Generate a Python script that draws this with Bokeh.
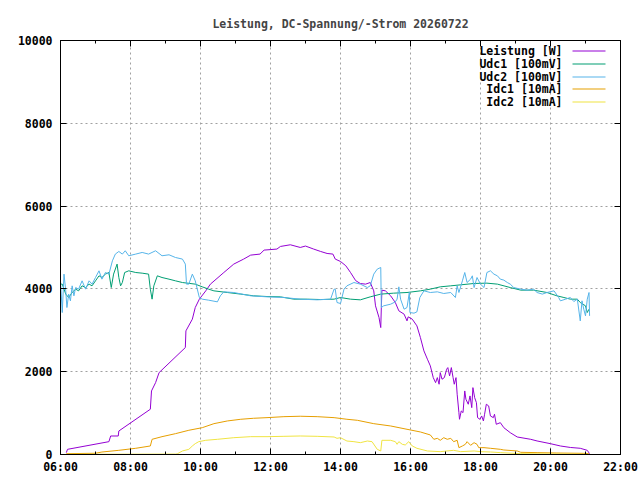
from bokeh.plotting import figure
from bokeh.models import FixedTicker, LinearAxis, Label, BoxAnnotation, Range1d, CustomLabelingPolicy
from bokeh.embed import file_html
from bokeh.resources import INLINE

TITLE = "Leistung, DC-Spannung/-Strom 20260722"

x_tick_values = [6, 8, 10, 12, 14, 16, 18, 20, 22]
x_tick_labels = ["06:00", "08:00", "10:00", "12:00", "14:00", "16:00", "18:00", "20:00", "22:00"]
x_minor_ticks = [7, 9, 11, 13, 15, 17, 19, 21]
y_tick_values = [0, 2000, 4000, 6000, 8000, 10000]

series_names = ["Leistung [W]", "Udc1 [100mV]", "Udc2 [100mV]", "Idc1 [10mA]", "Idc2 [10mA]"]
series_colors = ["#9400d3", "#009e73", "#56b4e9", "#e69f00", "#f0e442"]

p_time = ["06:10", "06:12", "07:23", "07:26", "07:39", "07:40", "08:34", "08:36", "08:43", "08:49",
          "09:34", "09:35", "09:46", "09:51", "09:58", "10:09", "10:17", "10:40", "10:57", "11:14",
          "11:26", "11:42", "11:49", "12:11", "12:17", "12:34", "12:51", "13:00", "13:14", "13:26",
          "13:37", "13:47", "13:51", "14:00", "14:09", "14:17", "14:26", "14:34", "14:43", "14:51",
          "14:57", "15:00", "15:06", "15:09", "15:10", "15:11", "15:17", "15:26", "15:34", "15:40",
          "15:49", "15:54", "15:56", "16:03", "16:11", "16:17", "16:23", "16:29", "16:34", "16:39",
          "16:43", "16:46", "16:49", "16:51", "16:54", "16:58", "17:02", "17:04", "17:07", "17:10",
          "17:13", "17:15", "17:18", "17:20", "17:23", "17:24", "17:27", "17:30", "17:33", "17:35",
          "17:39", "17:42", "17:45", "17:47", "17:50", "17:53", "17:55", "17:59", "18:02", "18:05",
          "18:07", "18:10", "18:14", "18:17", "18:22", "18:24", "18:27", "18:34", "18:40", "18:51",
          "19:03", "19:26", "19:37", "20:00", "20:17", "20:34", "20:51", "21:03", "21:07"]
p_watt = [45, 125, 310, 447, 447, 568, 1093, 1535, 1736, 1978,
          2583, 2986, 3269, 3550, 3752, 3953, 4115, 4396, 4599, 4720,
          4816, 4841, 4937, 4962, 5025, 5066, 5001, 5035, 4962, 4904,
          4856, 4841, 4720, 4662, 4560, 4400, 4200, 4130, 4115, 4154,
          3953, 3591, 3308, 3066, 3550, 3970, 3953, 3833, 3671, 3470,
          3390, 3228, 3325, 3269, 3107, 2824, 2503, 2302, 2140, 1857,
          1736, 1857, 1697, 1978, 1818, 1857, 2060, 2099, 1898, 2099,
          1857, 1697, 1857, 1456, 1011, 851, 1052, 1011, 1535, 1335,
          1214, 1415, 1132, 1615, 1373, 1253, 890, 851, 931, 810,
          972, 1214, 1173, 931, 890, 972, 730, 769, 648, 527,
          423, 367, 327, 261, 206, 170, 150, 101, 19]

udc1_time = ["06:00", "06:03", "06:09", "06:14", "06:20", "06:26", "06:31", "06:37", "06:43", "06:49",
             "06:54", "07:00", "07:06", "07:11", "07:17", "07:23", "07:27", "07:31", "07:37", "07:40",
             "07:43", "07:46", "07:50", "07:57", "08:09", "08:20", "08:31", "08:34", "08:37", "08:40",
             "08:46", "08:54", "09:06", "09:17", "09:29", "09:51", "10:03", "10:14", "10:23", "10:46",
             "11:09", "11:31", "11:54", "12:17", "12:40", "13:03", "13:26", "13:49", "14:00", "14:17",
             "14:34", "14:51", "15:09", "15:31", "15:54", "16:17", "16:34", "16:51", "17:09", "17:26",
             "17:49", "18:11", "18:29", "18:51", "19:09", "19:31", "19:54", "20:11", "20:23", "20:34",
             "20:46", "20:51", "21:00", "21:03", "21:06"]
udc1_val = [4115, 4115, 3874, 3792, 3913, 3994, 3953, 4074, 4033, 4115,
            4074, 4195, 4316, 4275, 4357, 4396, 4033, 4357, 4599, 4275,
            4074, 4154, 4396, 4437, 4396, 4380, 4357, 3994, 3752, 4074,
            4316, 4275, 4235, 4195, 4154, 4115, 4050, 3994, 3953, 3913,
            3874, 3833, 3816, 3808, 3752, 3752, 3743, 3752, 3792, 3752,
            3736, 3808, 3874, 3897, 3913, 3953, 3994, 4050, 4074, 4098,
            4131, 4139, 4115, 4033, 3970, 3970, 3913, 3833, 3792, 3752,
            3752, 3671, 3591, 3429, 3510]

udc2_time = ["06:00", "06:03", "06:06", "06:09", "06:11", "06:14", "06:17", "06:20", "06:23", "06:26",
             "06:31", "06:37", "06:43", "06:49", "06:54", "07:00", "07:06", "07:11", "07:17", "07:23",
             "07:29", "07:34", "07:40", "07:46", "07:51", "07:57", "08:09", "08:20", "08:31", "08:43",
             "08:54", "09:06", "09:17", "09:29", "09:34", "09:36", "09:40", "09:46", "09:51", "09:58",
             "10:03", "10:14", "10:29", "10:34", "10:40", "10:57", "11:26", "11:54", "12:23", "12:51",
             "13:20", "13:43", "13:49", "13:51", "13:54", "14:00", "14:06", "14:11", "14:23", "14:34",
             "14:46", "14:51", "14:57", "15:03", "15:09", "15:10", "15:14", "15:26", "15:34", "15:37",
             "15:40", "15:43", "15:49", "15:54", "15:58", "15:59", "16:06", "16:11", "16:16", "16:23",
             "16:34", "16:46", "16:57", "17:09", "17:17", "17:20", "17:23", "17:29", "17:33", "17:37",
             "17:43", "17:46", "17:49", "17:54", "18:00", "18:06", "18:11", "18:17", "18:23", "18:29",
             "18:34", "18:40", "18:46", "18:51", "18:57", "19:09", "19:20", "19:31", "19:37", "19:46",
             "19:54", "20:06", "20:14", "20:17", "20:26", "20:34", "20:40", "20:46", "20:51", "20:54",
             "20:57", "21:00", "21:03", "21:06", "21:07"]
udc2_val = [4195, 3429, 4357, 3953, 3550, 3874, 3712, 4074, 3833, 4033,
            3994, 4195, 3994, 4195, 4115, 4275, 4437, 4235, 4396, 4357,
            4679, 4841, 4904, 4841, 4921, 4800, 4841, 4880, 4841, 4921,
            4800, 4824, 4759, 4720, 4599, 4115, 4115, 4357, 4195, 3792,
            3752, 3728, 3687, 3833, 3929, 3913, 3833, 3808, 3792, 3752,
            3736, 3752, 3994, 3994, 3671, 3647, 3994, 4074, 4154, 4115,
            4033, 4074, 4357, 4478, 4517, 3550, 3591, 3631, 3687, 3752,
            4050, 3752, 3510, 3550, 3913, 3429, 3414, 3446, 3792, 3953,
            3913, 3929, 3889, 3913, 3792, 4074, 3913, 4195, 4396, 4154,
            4235, 4316, 4033, 4275, 4115, 4033, 4396, 4437, 4357, 4316,
            4235, 4212, 4154, 4115, 4033, 3994, 3970, 3994, 3913, 3874,
            3913, 3953, 3792, 3712, 3752, 3792, 3695, 3752, 3228, 3712,
            3510, 3349, 3752, 3913, 3349]

idc1_time = ["06:10", "07:00", "07:11", "07:40", "08:09", "08:34", "08:37", "08:54", "09:17", "09:40",
             "10:03", "10:23", "10:46", "11:09", "11:31", "11:54", "12:23", "12:51", "13:20", "13:49",
             "14:11", "14:29", "14:57", "15:26", "15:54", "16:17", "16:34", "16:40", "16:46", "16:51",
             "16:57", "17:03", "17:09", "17:14", "17:20", "17:23", "17:29", "17:34", "17:37", "17:43",
             "17:49", "17:54", "17:57", "18:06", "18:17", "18:34", "18:40", "19:03", "19:09", "19:37",
             "20:11", "20:57", "21:06"]
idc1_val = [20, 30, 60, 101, 150, 206, 367, 431, 503, 585,
            648, 745, 810, 851, 875, 890, 914, 924, 914, 890,
            851, 826, 745, 689, 609, 544, 472, 367, 391, 343,
            406, 367, 391, 310, 343, 165, 206, 246, 310, 222,
            286, 246, 165, 165, 150, 125, 109, 85, 53, 45,
            36, 28, 20]

idc2_time = ["06:10", "09:17", "09:20", "09:29", "09:40", "09:46", "09:51", "09:57", "10:09", "10:29",
             "10:57", "11:26", "11:54", "12:23", "12:51", "13:20", "13:49", "13:54", "14:00", "14:11",
             "14:23", "14:34", "14:46", "14:54", "15:03", "15:09", "15:11", "15:26", "15:34", "15:37",
             "15:40", "15:46", "15:51", "15:57", "16:03", "16:11", "16:29", "16:51", "17:14", "17:26",
             "17:49", "18:00", "18:17", "18:34", "19:09", "20:06", "21:06"]
idc2_val = [5, 10, 15, 85, 125, 206, 262, 310, 343, 367,
            406, 431, 431, 439, 447, 439, 423, 391, 406, 326,
            310, 286, 326, 310, 125, 85, 343, 343, 310, 246,
            310, 246, 230, 310, 206, 150, 85, 69, 101, 69,
            85, 69, 61, 45, 20, 12, 4]


def hours(ts):
    return [int(t[:2]) + int(t[3:]) / 60.0 for t in ts]


FONT = "DejaVu Sans Mono"
FS = "11.5px"

p = figure(width=640, height=480, x_range=Range1d(6, 22), y_range=Range1d(0, 10000),
           output_backend="svg", toolbar_location=None, title=TITLE,
           min_border_left=60, min_border_right=20, min_border_top=40, min_border_bottom=26)
p.title.align = "center"
p.title.text_font = FONT
p.title.text_font_size = FS
p.title.text_font_style = "bold"
p.title.standoff = 19
p.background_fill_color = "white"
p.border_fill_color = "white"
p.outline_line_color = "black"
p.outline_line_width = 1

xticker = FixedTicker(ticks=x_tick_values, minor_ticks=x_minor_ticks)
yticker = FixedTicker(ticks=y_tick_values, minor_ticks=[])

for ax in (p.xaxis[0], p.yaxis[0]):
    ax.major_tick_in = 6
    ax.major_tick_out = 0
    ax.minor_tick_in = 3
    ax.minor_tick_out = 0
    ax.axis_line_color = "black"
    ax.major_label_text_font = FONT
    ax.major_label_text_font_size = FS
    ax.major_label_text_font_style = "bold"
    ax.major_label_text_color = "black"
p.xaxis[0].ticker = xticker
p.xaxis[0].major_label_overrides = dict(zip(x_tick_values, x_tick_labels))
p.xaxis[0].major_label_standoff = 5
p.yaxis[0].ticker = yticker
p.yaxis[0].major_label_standoff = 8
p.yaxis[0].minor_tick_in = 0

# mirrored tick marks on the top and right edges (no labels drawn, no space reserved)
no_labels = CustomLabelingPolicy(code="""
for (const i of [...indices]) { indices.unset(i) }
return indices
""")
for loc, tk in (("above", xticker), ("right", yticker)):
    ax = LinearAxis(ticker=tk, major_label_policy=no_labels)
    ax.major_tick_in = 6
    ax.major_tick_out = 0
    ax.minor_tick_in = 3 if loc == "above" else 0
    ax.minor_tick_out = 0
    ax.major_label_standoff = 0
    ax.major_label_text_font_size = "0px"
    ax.axis_line_color = "black"
    p.add_layout(ax, loc)

p.xgrid.ticker = xticker
p.ygrid.ticker = yticker
for g in (p.xgrid[0], p.ygrid[0]):
    g.grid_line_color = "#a0a0a0"
    g.grid_line_dash = "2 3"
    g.grid_line_width = 1

series = [(p_time, p_watt), (udc1_time, udc1_val), (udc2_time, udc2_val),
          (idc1_time, idc1_val), (idc2_time, idc2_val)]
for (ts, vs), col in zip(series, series_colors):
    p.line(hours(ts), vs, line_color=col, line_width=1)

# gnuplot-style key: right-aligned text followed by sample line (screen units, frame-relative)
key_text_right = 502
key_line_left = 512
key_line_right = 545
key_top = 403.5
key_step = 12.75
for i, (name, col) in enumerate(zip(series_names, series_colors)):
    yy = key_top - round(i * key_step)
    p.add_layout(Label(x=key_text_right, y=yy, x_units="screen", y_units="screen", text=name,
                       text_align="right", text_baseline="middle", text_font=FONT,
                       text_font_size=FS, text_font_style="bold", text_color="black"))
    p.add_layout(BoxAnnotation(left=key_line_left, right=key_line_right, bottom=yy, top=yy,
                               left_units="screen", right_units="screen",
                               bottom_units="screen", top_units="screen",
                               fill_alpha=0, line_color=col, line_width=1.2, line_alpha=1))

open("out.html", "w").write(file_html(p, INLINE))
